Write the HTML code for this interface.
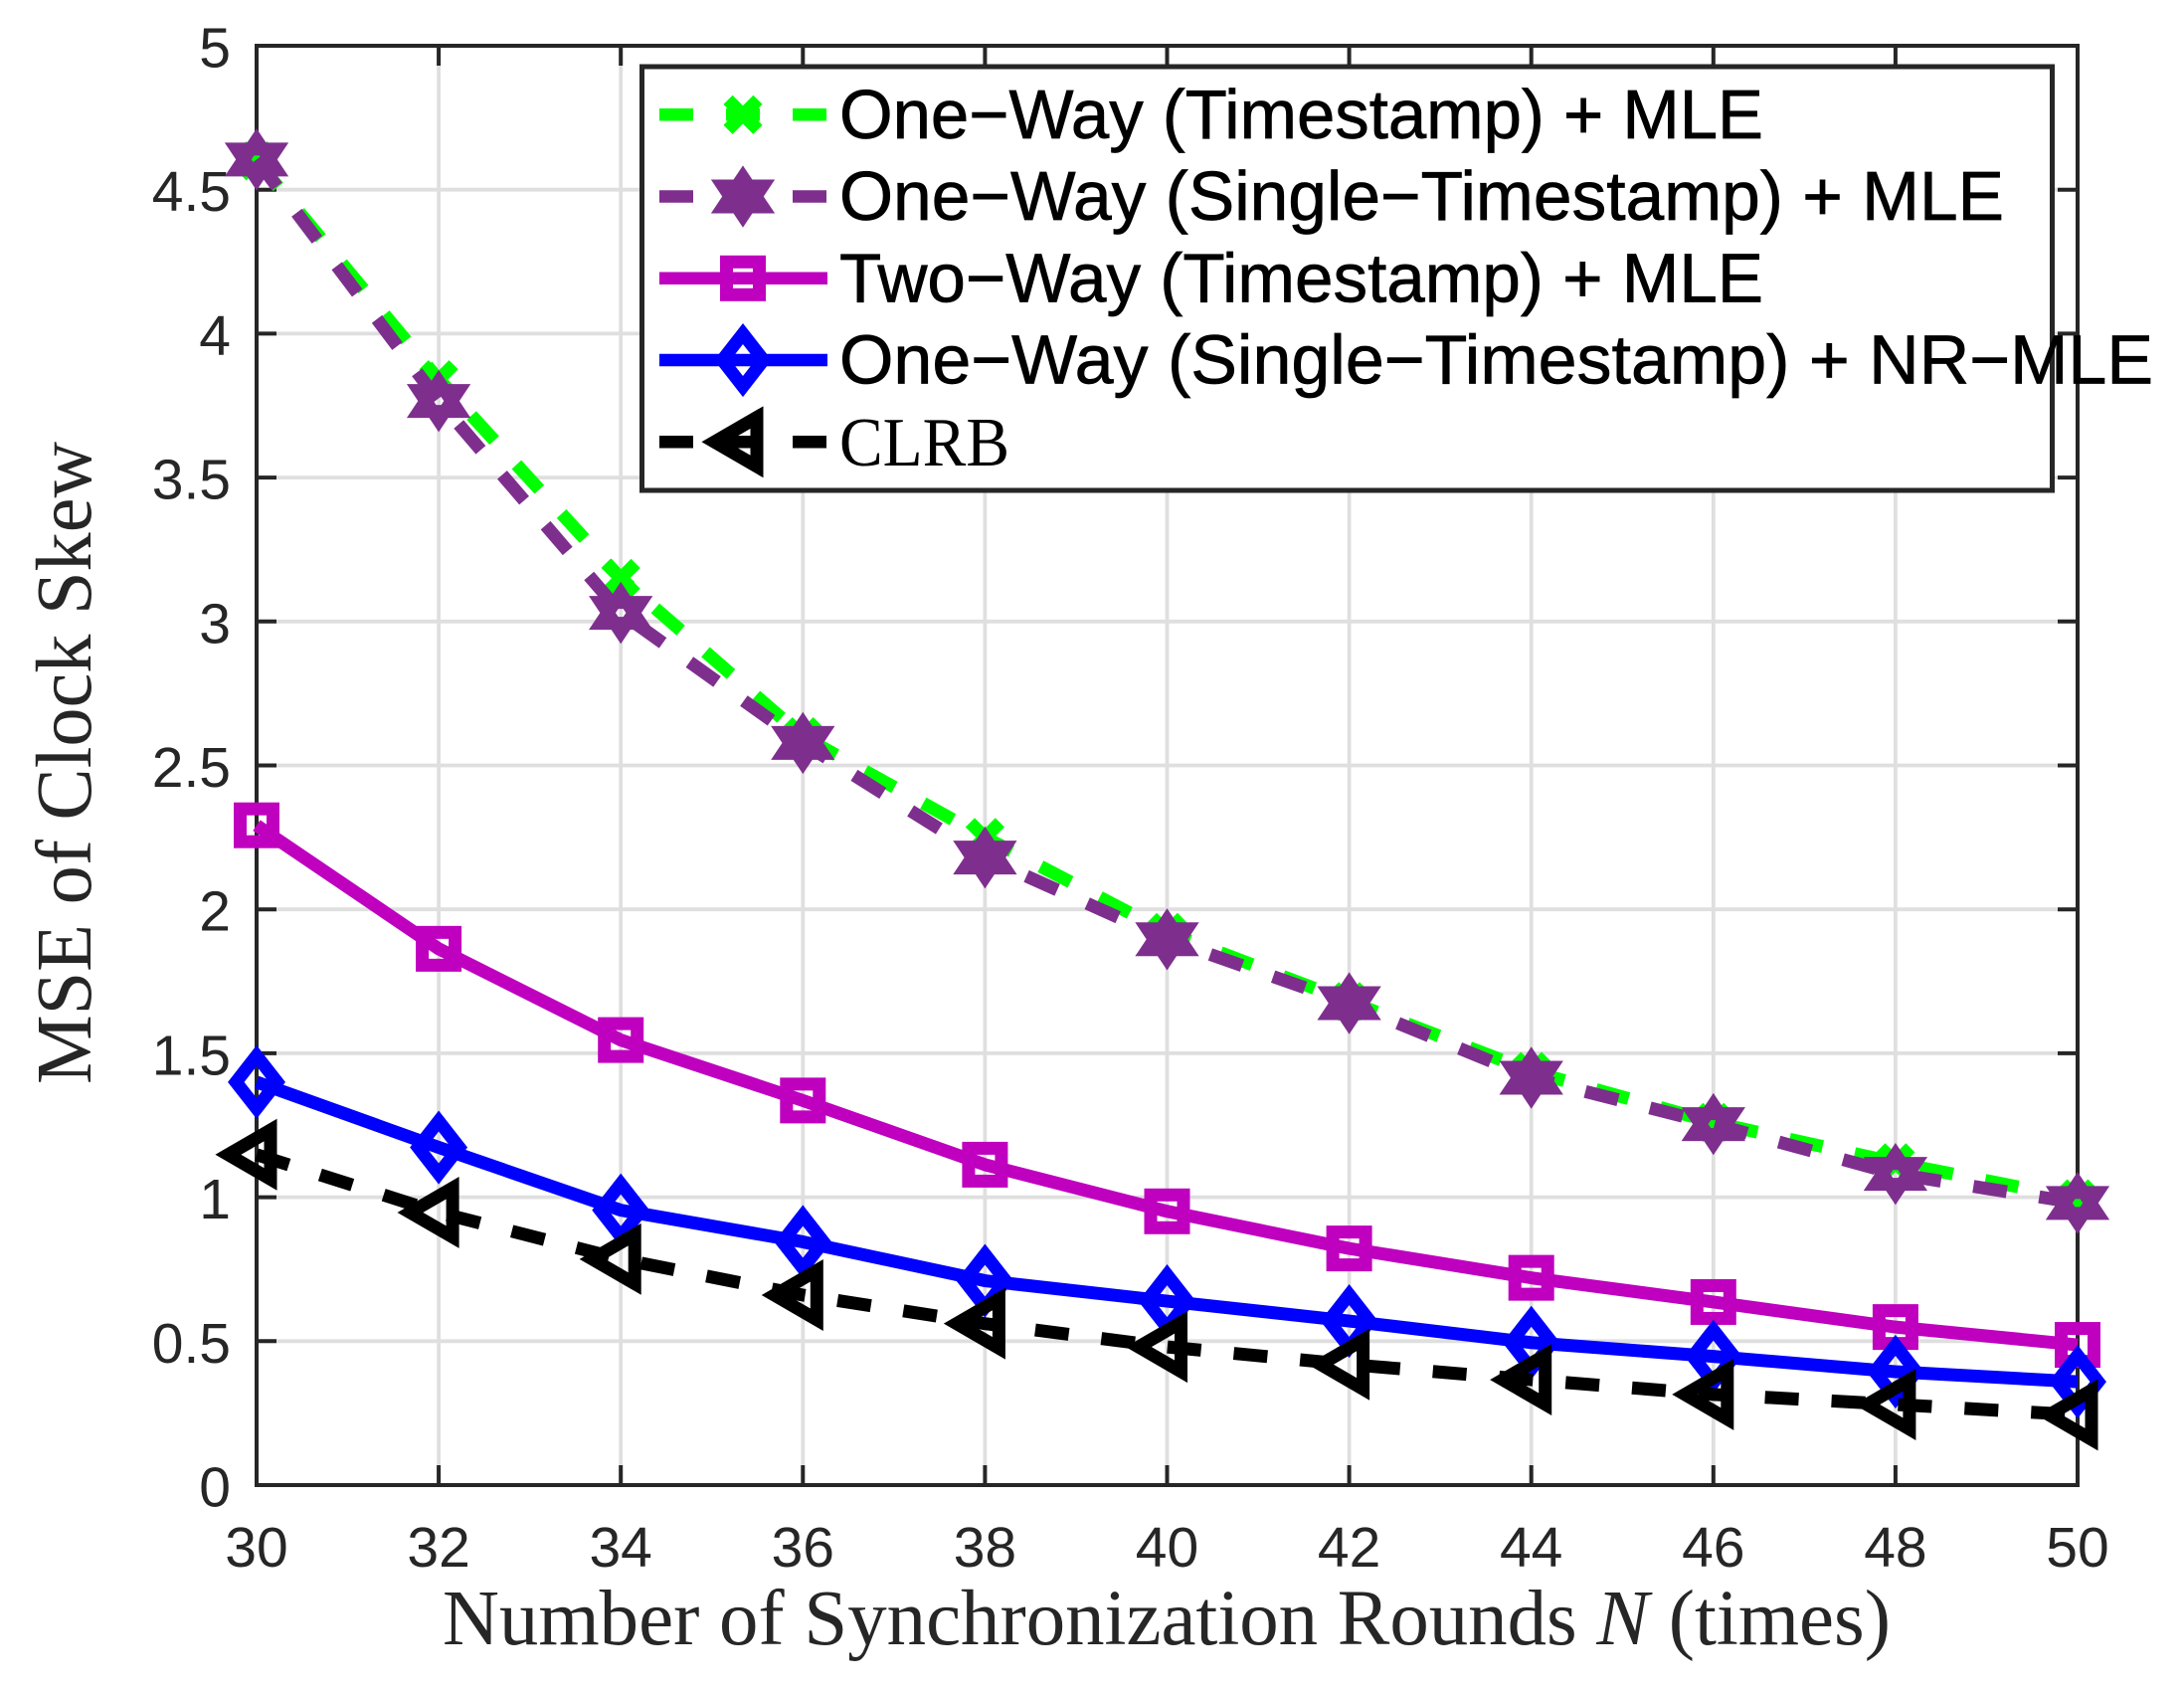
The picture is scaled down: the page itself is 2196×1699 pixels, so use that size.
<!DOCTYPE html>
<html lang="en">
<head>
<meta charset="utf-8">
<title>MSE of Clock Skew</title>
<style>
html,body{margin:0;padding:0;background:#fff;}
svg{display:block;}
</style>
</head>
<body>
<svg id="chart" xmlns="http://www.w3.org/2000/svg" width="2196" height="1699" viewBox="0 0 2196 1699"></svg>
<script>
const xCategories = [30, 32, 34, 36, 38, 40, 42, 44, 46, 48, 50];
const xTickLabels = ['30', '32', '34', '36', '38', '40', '42', '44', '46', '48', '50'];
const yTickValues = [0, 0.5, 1, 1.5, 2, 2.5, 3, 3.5, 4, 4.5, 5];
const yTickLabels = ['0', '0.5', '1', '1.5', '2', '2.5', '3', '3.5', '4', '4.5', '5'];
const oneWayTimestampMle = [4.60, 3.84, 3.15, 2.60, 2.25, 1.92, 1.68, 1.437, 1.26, 1.12, 0.995];
const oneWaySingleMle = [4.605, 3.766, 3.03, 2.578, 2.18, 1.896, 1.674, 1.415, 1.254, 1.081, 0.98];
const twoWayTimestampMle = [2.292, 1.863, 1.546, 1.336, 1.113, 0.951, 0.822, 0.72, 0.636, 0.549, 0.487];
const oneWaySingleNrMle = [1.40, 1.173, 0.955, 0.845, 0.71, 0.639, 0.57, 0.495, 0.447, 0.394, 0.359];
const clrb = [1.148, 0.947, 0.785, 0.66, 0.561, 0.48, 0.419, 0.366, 0.315, 0.28, 0.244];

const NS = 'http://www.w3.org/2000/svg';
const root = document.getElementById('chart');
const plot = {left: 258, right: 2089, top: 46, bottom: 1493};
const xMin = 30, xMax = 50, yMin = 0, yMax = 5;
function xScale(v){ return plot.left + (v - xMin) / (xMax - xMin) * (plot.right - plot.left); }
function yScale(v){ return plot.bottom - (v - yMin) / (yMax - yMin) * (plot.bottom - plot.top); }
function make(tag, attrs, parent){
  const el = document.createElementNS(NS, tag);
  for (const k in attrs) el.setAttribute(k, attrs[k]);
  (parent || root).appendChild(el);
  return el;
}
const AXIS = '#262626', GRID = '#dfdfdf';

/* grid */
const gridGroup = make('g', {});


xCategories.forEach(function(v){
  const l = make('line', {x1:xScale(v), x2:xScale(v), y1:plot.top, y2:plot.bottom, stroke:GRID, 'stroke-width':3.8}, gridGroup);
  
  
});
yTickValues.forEach(function(v){
  const l = make('line', {x1:plot.left, x2:plot.right, y1:yScale(v), y2:yScale(v), stroke:GRID, 'stroke-width':3.8}, gridGroup);
  
  
});

/* ticks and box */
const TL = 20;
const axisGroup = make('g', {stroke:AXIS, 'stroke-width':4, fill:'none'});


xCategories.forEach(function(v){
  const x = xScale(v);
  const a = make('line', {x1:x, x2:x, y1:plot.bottom, y2:plot.bottom-TL}, axisGroup);
  
  
  const b = make('line', {x1:x, x2:x, y1:plot.top, y2:plot.top+TL}, axisGroup);
  
  
});
yTickValues.forEach(function(v){
  const y = yScale(v);
  const a = make('line', {x1:plot.left, x2:plot.left+TL, y1:y, y2:y}, axisGroup);
  
  
  const b = make('line', {x1:plot.right, x2:plot.right-TL, y1:y, y2:y}, axisGroup);
  
  
});
const frame = make('rect', {x:plot.left, y:plot.top, width:plot.right-plot.left, height:plot.bottom-plot.top}, axisGroup);



/* tick labels */
const SANS = '"Liberation Sans", sans-serif', SERIF = '"Liberation Serif", serif';
xCategories.forEach(function(v, i){
  const t = make('text', {x:xScale(v), y:1575, 'text-anchor':'middle', 'font-family':SANS, 'font-size':57, fill:AXIS});
  
  
  t.textContent = xTickLabels[i];
});
yTickValues.forEach(function(v, i){
  const t = make('text', {x:232, y:yScale(v)+21.5, 'text-anchor':'end', 'font-family':SANS, 'font-size':57, fill:AXIS});
  
  
  t.textContent = yTickLabels[i];
});

/* markers */
function drawMarker(kind, cx, cy, color, parent){
  const g = make('g', {transform:'translate('+cx+' '+cy+')', fill:'none', stroke:color, 'stroke-width':13, 'stroke-miterlimit':10}, parent);
  if (kind === 'x') {
    make('path', {d:'M-15 -15L15 15M15 -15L-15 15'}, g);
  } else if (kind === 'hexagram') {
    make('polygon', {points:'0,-19.5 20,10.5 -20,10.5'}, g);
    make('polygon', {points:'0,19.5 20,-10.5 -20,-10.5'}, g);
  } else if (kind === 'square') {
    make('rect', {x:-16.5, y:-16.5, width:33, height:33}, g);
  } else if (kind === 'diamond') {
    make('polygon', {points:'0,-26.5 20.7,0 0,26.5 -20.7,0'}, g);
  } else if (kind === 'triangle') {
    make('polygon', {points:'-28.6,0 14,-24.7 14,24.7'}, g);
  }
  return g;
}

const seriesColors = ['#00ff00', '#7e2f8e', '#bf00bf', '#0000ff', '#000000'];
const seriesMarkers = ['x', 'hexagram', 'square', 'diamond', 'triangle'];
const seriesDashes = ['34 33', '34 33', 'none', 'none', '34 33'];

function drawSeries(values, idx, name){
  const g = make('g', {});
  
  
  const d = values.map(function(v, i){ return (i ? 'L' : 'M') + xScale(xCategories[i]) + ' ' + yScale(v); }).join('');
  const line = make('path', {d:d, fill:'none', stroke:seriesColors[idx], 'stroke-width':13, 'stroke-dasharray':seriesDashes[idx], 'stroke-linejoin':'round'}, g);
  
  
  values.forEach(function(v, i){
    const m = drawMarker(seriesMarkers[idx], xScale(xCategories[i]), yScale(v), seriesColors[idx], g);
    
    
  });
}
drawSeries(oneWayTimestampMle, 0, 'series-one-way-timestamp-mle');
drawSeries(oneWaySingleMle, 1, 'series-one-way-single-timestamp-mle');
drawSeries(twoWayTimestampMle, 2, 'series-two-way-timestamp-mle');
drawSeries(oneWaySingleNrMle, 3, 'series-one-way-single-timestamp-nr-mle');
drawSeries(clrb, 4, 'series-clrb');

/* axis titles */
const xTitle = make('text', {x:445, y:1653, 'font-family':SERIF, 'font-size':79, fill:AXIS, textLength:1456, lengthAdjust:'spacingAndGlyphs'});


xTitle.innerHTML = 'Number of Synchronization Rounds <tspan font-style="italic">N</tspan> (times)';

const yTitle = make('text', {transform:'translate(91 1090) rotate(-90)', 'font-family':SERIF, 'font-size':79, fill:AXIS, textLength:646, lengthAdjust:'spacingAndGlyphs'});


yTitle.textContent = 'MSE of Clock Skew';

/* legend */
const legendGroup = make('g', {});


const legendBox = make('rect', {x:648, y:67, width:1418, height:426, fill:'#fff', stroke:AXIS, 'stroke-width':5}, legendGroup);
legendBox.setAttribute('x', 645.5);


const legendLabels = ['One\u2212Way (Timestamp) + MLE', 'One\u2212Way (Single\u2212Timestamp) + MLE', 'Two\u2212Way (Timestamp) + MLE', 'One\u2212Way (Single\u2212Timestamp) + NR\u2212MLE', 'CLRB'];
const legendWidths = [929, 1171, 929, 1321, 171];
legendLabels.forEach(function(label, i){
  const y = 115.3 + i * 82.25;
  const entry = make('g', {}, legendGroup);
  
  
  const swatch = make('line', {x1:663, x2:832, y1:y, y2:y, stroke:seriesColors[i], 'stroke-width':12.5, 'stroke-dasharray':seriesDashes[i]}, entry);
  
  
  const mk = drawMarker(seriesMarkers[i], 747, y, seriesColors[i], entry);
  
  
  const t = make('text', {x:844, y:y+23.5, 'font-family':i === 4 ? SERIF : SANS, 'font-size':70, fill:'#000', stroke:i === 4 ? 'none' : '#000', 'stroke-width':0.7, textLength:legendWidths[i], lengthAdjust:'spacingAndGlyphs'}, entry);
  
  
  t.textContent = label;
});
</script>
</body>
</html>
